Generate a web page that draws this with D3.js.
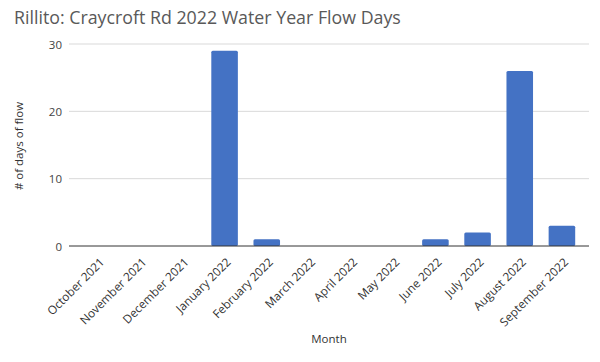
<!DOCTYPE html>
<html><head><meta charset="utf-8">
<script src="https://cdn.jsdelivr.net/npm/d3@7"></script>
<style>body{margin:0;background:#fff}svg{display:block}</style>
</head><body>
<script>
const months = ["October 2021","November 2021","December 2021","January 2022","February 2022","March 2022","April 2022","May 2022","June 2022","July 2022","August 2022","September 2022"];
const flowDays = [0,0,0,29,1,0,0,0,1,2,26,3];
const yTicks = [0,10,20,30];

const W=600,H=362;
const svg=d3.select("body").append("svg").attr("width",W).attr("height",H);
const font="'Open Sans', sans-serif";
const x=d3.scaleBand().domain(months).range([77,583]).paddingInner(0.37).paddingOuter(0.185);
const y=d3.scaleLinear().domain([0,30]).range([246,44]);

svg.append("text").attr("x",14).attr("y",24).attr("font-family",font).attr("font-size",17.8)
  .attr("fill","#595959").text("Rillito: Craycroft Rd 2022 Water Year Flow Days");

const g=svg.append("g");
g.selectAll("line.grid").data(yTicks.filter(d=>d>0)).join("line").attr("class","grid")
  .attr("x1",69).attr("x2",589).attr("y1",d=>y(d)).attr("y2",d=>y(d))
  .attr("stroke","#d9d9d9").attr("stroke-width",1);

const yAxis=d3.axisLeft(y).tickValues(yTicks).tickSize(0).tickPadding(0);
const ya=svg.append("g").attr("transform","translate(62,0)").call(yAxis);
ya.select(".domain").remove();
ya.selectAll("text").attr("font-family",font).attr("font-size",11.5).attr("fill","#444").attr("dy","0.35em");

g.selectAll("rect").data(flowDays).join("rect")
  .attr("x",(d,i)=>x(months[i])).attr("width",x.bandwidth())
  .attr("y",d=>y(d)).attr("height",d=>y(0)-y(d))
  .attr("fill","#4472c4").attr("rx",1.5);

svg.append("line").attr("x1",69).attr("x2",589).attr("y1",y(0)).attr("y2",y(0))
  .attr("stroke","#333").attr("stroke-width",1);

const xAxis=d3.axisBottom(x).tickSize(0).tickPadding(0);
const xa=svg.append("g").attr("transform",`translate(0,${y(0)})`).call(xAxis);
xa.select(".domain").remove();
xa.selectAll("text").attr("font-family",font).attr("font-size",11.8).attr("fill","#333")
  .attr("text-anchor","end").attr("dy",0)
  .attr("transform","translate(7,17) rotate(-45)");

svg.append("text").attr("transform","translate(23,146) rotate(-90)").attr("text-anchor","middle")
  .attr("font-family",font).attr("font-size",11.5).attr("fill","#333").text("# of days of flow");
svg.append("text").attr("x",329).attr("y",343).attr("text-anchor","middle")
  .attr("font-family",font).attr("font-size",11.5).attr("fill","#333").text("Month");
</script>
</body></html>
